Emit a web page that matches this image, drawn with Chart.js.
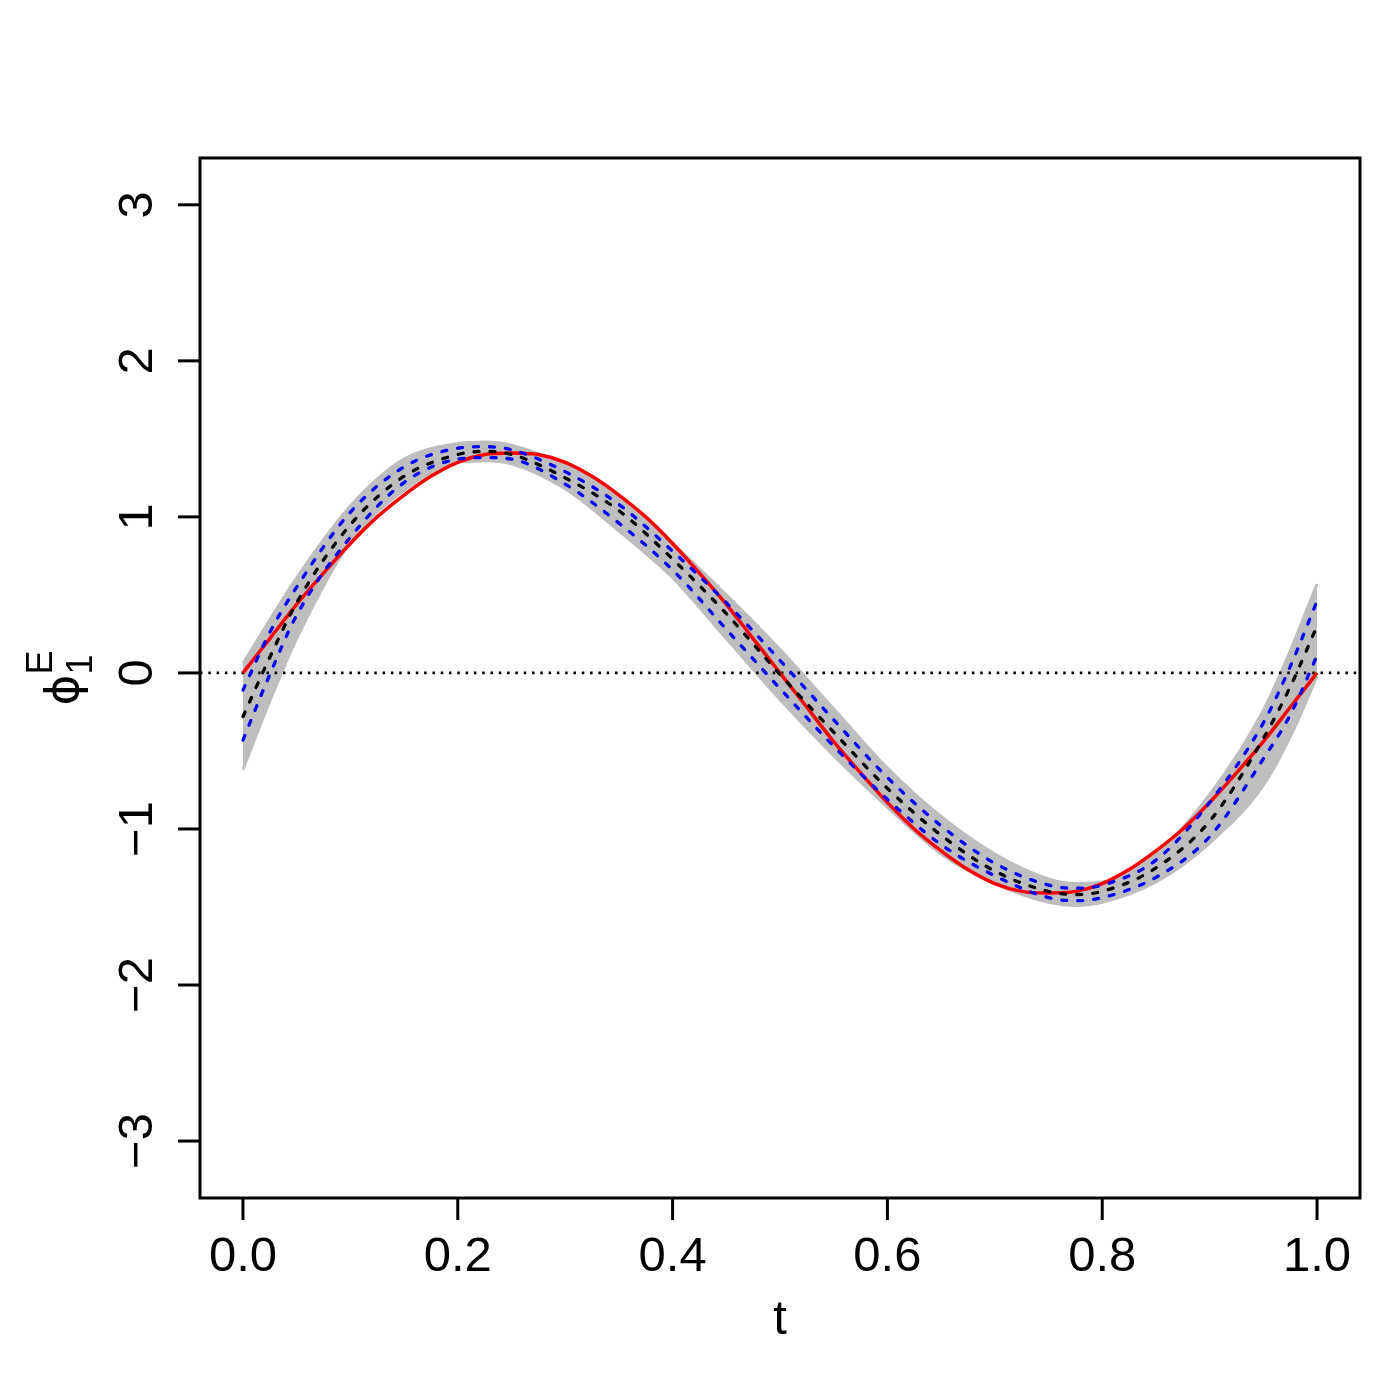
<!DOCTYPE html>
<html>
<head>
<meta charset="utf-8">
<script src="https://cdn.jsdelivr.net/npm/chart.js@4.4.1/dist/chart.umd.min.js"></script>
<style>
  body { margin: 0; background: #fff; }
  #wrap { width: 1400px; height: 1400px; }
</style>
</head>
<body>
<div id="wrap"><canvas id="phi_chart" width="1400" height="1400"></canvas></div>
<script>
// grid of t values
var tValues = [0, 0.025, 0.05, 0.1, 0.15, 0.2, 0.225, 0.25, 0.3, 0.35, 0.4, 0.45, 0.5,
    0.55, 0.6, 0.65, 0.7, 0.75, 0.775, 0.8, 0.85, 0.9, 0.95, 0.975, 1];

// red: true function, read on a finer grid
var tTrue = [0, 0.025, 0.05, 0.075, 0.1, 0.125, 0.15, 0.175, 0.2, 0.225, 0.25, 0.275, 0.3,
    0.325, 0.35, 0.375, 0.4, 0.425, 0.45, 0.475, 0.5, 0.525, 0.55, 0.575, 0.6, 0.625, 0.65,
    0.675, 0.7, 0.725, 0.75, 0.775, 0.8, 0.825, 0.85, 0.875, 0.9, 0.925, 0.95, 0.975, 1];
var trueValues = [0, 0.22, 0.44, 0.64, 0.83, 1.00, 1.14, 1.26, 1.35, 1.40, 1.41, 1.40, 1.35,
    1.26, 1.14, 1.00, 0.83, 0.64, 0.44, 0.22, 0, -0.22, -0.44, -0.64, -0.83, -1.00, -1.14,
    -1.26, -1.35, -1.40, -1.41, -1.40, -1.35, -1.26, -1.14, -1.00, -0.83, -0.64, -0.44, -0.22, 0];

// black dashed: mean estimate
var meanValues = [-0.28, 0.10, 0.45, 0.95, 1.26, 1.40, 1.42, 1.40, 1.25, 1.04, 0.73, 0.38, -0.01,
    -0.38, -0.74, -1.04, -1.27, -1.40, -1.42, -1.40, -1.25, -0.95, -0.42, -0.09, 0.30];

// blue dashed: upper / lower
var upperValues = [-0.11, 0.26, 0.55, 1.03, 1.32, 1.44, 1.45, 1.43, 1.29, 1.08, 0.78, 0.45, 0.08,
    -0.30, -0.67, -0.98, -1.22, -1.36, -1.38, -1.36, -1.20, -0.83, -0.32, 0.04, 0.46];
var lowerValues = [-0.43, -0.01, 0.37, 0.87, 1.22, 1.37, 1.38, 1.37, 1.21, 0.96, 0.66, 0.28, -0.10,
    -0.47, -0.81, -1.10, -1.30, -1.44, -1.46, -1.44, -1.31, -1.05, -0.55, -0.27, 0.11];

// gray band of replicate curves
var bandTop = [0.06, 0.34, 0.61, 1.07, 1.37, 1.47, 1.48, 1.46, 1.33, 1.14, 0.83, 0.50, 0.15,
    -0.23, -0.61, -0.92, -1.16, -1.32, -1.35, -1.34, -1.16, -0.78, -0.24, 0.14, 0.57];
var bandBottom = [-0.62, -0.18, 0.22, 0.84, 1.17, 1.35, 1.36, 1.34, 1.18, 0.91, 0.61, 0.22, -0.17,
    -0.53, -0.86, -1.16, -1.35, -1.47, -1.49, -1.47, -1.34, -1.09, -0.72, -0.41, -0.02];

var xTicks = [0, 0.2, 0.4, 0.6, 0.8, 1];
var xTickLabels = ['0.0', '0.2', '0.4', '0.6', '0.8', '1.0'];
var yTicks = [-3, -2, -1, 0, 1, 2, 3];
var yTickLabels = ['\u22123', '\u22122', '\u22121', '0', '1', '2', '3'];

var FONT = '"Liberation Sans", Arial, Helvetica, sans-serif';

function pts(vals, ts) {
    ts = ts || tValues;
    return ts.map(function (t, i) { return { x: t, y: vals[i] }; });
}

var rAxes = {
    id: 'rAxes',
    afterDraw: function (chart) {
        var ctx = chart.ctx;
        var a = chart.chartArea;
        var xs = chart.scales.x, ys = chart.scales.y;
        ctx.save();
        ctx.strokeStyle = '#000';
        ctx.fillStyle = '#000';
        ctx.lineWidth = 3;
        ctx.strokeRect(a.left, a.top, a.right - a.left, a.bottom - a.top);

        // x ticks + labels
        ctx.font = '49px ' + FONT;
        ctx.textAlign = 'center';
        ctx.textBaseline = 'alphabetic';
        xTicks.forEach(function (v, i) {
            var px = xs.getPixelForValue(v);
            ctx.beginPath();
            ctx.moveTo(px, a.bottom);
            ctx.lineTo(px, a.bottom + 22);
            ctx.stroke();
            ctx.fillText(xTickLabels[i], px, 1271);
        });

        // y ticks + rotated labels
        yTicks.forEach(function (v, i) {
            var py = ys.getPixelForValue(v);
            ctx.beginPath();
            ctx.moveTo(a.left, py);
            ctx.lineTo(a.left - 22, py);
            ctx.stroke();
            ctx.save();
            ctx.translate(152, py);
            ctx.rotate(-Math.PI / 2);
            ctx.fillText(yTickLabels[i], 0, 0);
            ctx.restore();
        });

        // x title
        ctx.fillText('t', (a.left + a.right) / 2, 1334);

        // y title: phi_1^E
        ctx.save();
        ctx.translate(78, (a.top + a.bottom) / 2);
        ctx.rotate(-Math.PI / 2);
        ctx.textAlign = 'left';
        ctx.font = '47px "DejaVu Sans", ' + FONT;
        var wPhi = ctx.measureText('\u03D5').width;
        ctx.font = '36px ' + FONT;
        var wSub = Math.max(ctx.measureText('1').width, ctx.measureText('E').width);
        var u0 = -(wPhi + wSub) / 2;
        ctx.font = '47px "DejaVu Sans", ' + FONT;
        ctx.fillText('\u03D5', u0, 0);
        ctx.font = '36px ' + FONT;
        ctx.fillText('1', u0 + wPhi, 14);
        ctx.fillText('E', u0 + wPhi, -26);
        ctx.restore();

        ctx.restore();
    }
};

var gray = '#BEBEBE';
var dash = [5, 11];
var phi_chart = document.getElementById('phi_chart');
var My_phi_chart = new Chart(phi_chart, {
    type: 'line',
    data: {
        datasets: [{
            data: pts(meanValues),
            borderColor: '#000000',
            borderWidth: 3.3,
            borderDash: dash,
            borderCapStyle: 'round'
        }, {
            data: pts(upperValues),
            borderColor: '#0000FF',
            borderWidth: 3.3,
            borderDash: dash,
            borderCapStyle: 'round'
        }, {
            data: pts(lowerValues),
            borderColor: '#0000FF',
            borderWidth: 3.3,
            borderDash: dash,
            borderCapStyle: 'round'
        }, {
            data: pts(trueValues, tTrue),
            borderColor: '#FF0000',
            borderWidth: 3.5
        }, {
            data: [{ x: -0.04, y: 0 }, { x: 1.04, y: 0 }],
            borderColor: '#000000',
            borderWidth: 2.8,
            borderDash: [2.5, 5.8],
            cubicInterpolationMode: 'default',
            tension: 0
        }, {
            data: pts(bandTop),
            borderColor: gray,
            backgroundColor: gray,
            borderWidth: 3,
            fill: '+1'
        }, {
            data: pts(bandBottom),
            borderColor: gray,
            borderWidth: 3,
            fill: false
        }]
    },
    options: {
        responsive: false,
        animation: false,
        devicePixelRatio: 1,
        layout: { padding: { left: 200, top: 158, right: 40, bottom: 202 } },
        elements: {
            point: { radius: 0 },
            line: { cubicInterpolationMode: 'monotone' }
        },
        plugins: { legend: { display: false }, tooltip: { enabled: false } },
        scales: {
            x: { type: 'linear', min: -0.04, max: 1.04, display: false },
            y: { type: 'linear', min: -3.365, max: 3.30, display: false }
        }
    },
    plugins: [rAxes]
});
</script>
</body>
</html>
